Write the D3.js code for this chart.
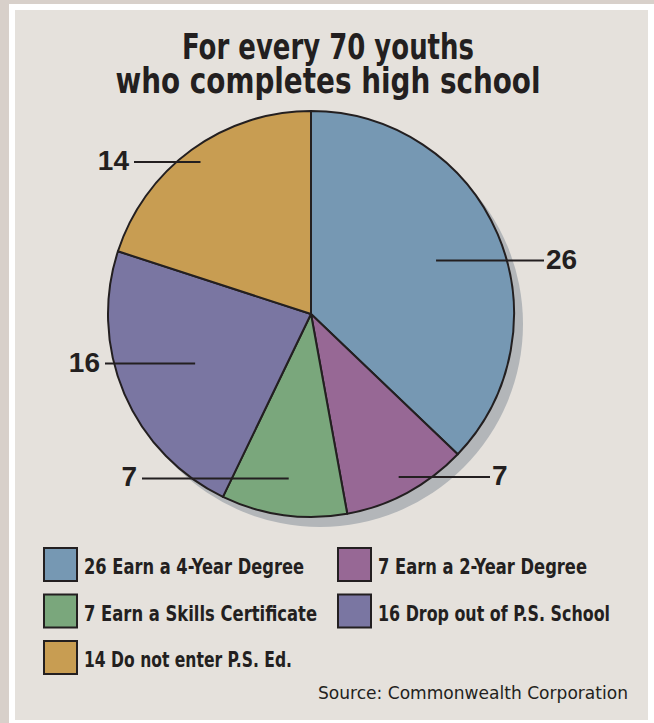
<!DOCTYPE html>
<html>
<head>
<meta charset="utf-8">
<script src="https://cdn.jsdelivr.net/npm/d3@7"></script>
<style>
  body { margin: 0; background: #d8d0ca; }
  svg { display: block; }
</style>
</head>
<body>
<div id="chart"></div>
<script>
// data
const categories = ["Earn a 4-Year Degree", "Earn a 2-Year Degree", "Earn a Skills Certificate", "Drop out of P.S. School", "Do not enter P.S. Ed."];
const values = [26, 7, 7, 16, 14];
const colors = ["#7698b3", "#976895", "#7aa77c", "#7a76a2", "#c89d52"];
const titleLines = ["For every 70 youths", "who completes high school"];
const sourceText = "Source: Commonwealth Corporation";

// layout: leader lines and squeezed text widths (no narrow font installed)
const leaderRadius = [136, 185, 166, 126, 188];
const leaderSide = ["right", "right", "left", "left", "left"];
const leaderEndX = [544, 490, 142, 105, 134];
const titleWidths = [292, 425];
const legendWidths = [220, 209, 233, 232, 208];

const width = 654;
const height = 723;
const cx = 311, cy = 314, radius = 203;
const condensed = "'Liberation Sans Narrow', 'Arial Narrow', 'DejaVu Sans Condensed', sans-serif";
const ink = "#231f20";

const svg = d3.select("#chart")
    .append("svg")
    .attr("width", width)
    .attr("height", height);

// frame
svg.append("rect").attr("width", width).attr("height", height).attr("fill", "#d8d0ca");
svg.append("rect").attr("x", 9).attr("y", 4).attr("width", width - 9).attr("height", height - 4).attr("fill", "#ffffff");
svg.append("rect").attr("x", 15).attr("y", 10).attr("width", 633).attr("height", 710).attr("fill", "#e5e1dc");

// title
svg.append("g")
    .selectAll("text")
    .data(titleLines)
    .enter()
    .append("text")
    .attr("x", 328)
    .attr("y", (d, i) => 59 + i * 34)
    .attr("text-anchor", "middle")
    .attr("font-family", condensed)
    .attr("font-weight", "bold")
    .attr("font-size", "35px")
    .attr("textLength", (d, i) => titleWidths[i])
    .attr("lengthAdjust", "spacingAndGlyphs")
    .attr("fill", ink)
    .text(d => d);

// pie
const pie = d3.pie().sort(null).value(d => d);
const arcs = pie(values);
const arc = d3.arc().innerRadius(0).outerRadius(radius);

const g = svg.append("g").attr("transform", `translate(${cx},${cy})`);

g.append("circle")
    .attr("cx", 9)
    .attr("cy", 10)
    .attr("r", radius)
    .attr("fill", "#b3b6b9");

g.selectAll("path.slice")
    .data(arcs)
    .enter()
    .append("path")
    .attr("class", "slice")
    .attr("d", arc)
    .attr("fill", (d, i) => colors[i])
    .attr("stroke", ink)
    .attr("stroke-width", 2)
    .attr("stroke-linejoin", "round");

// leader lines + value labels
const leaders = arcs.map((d, i) => {
    const a = (d.startAngle + d.endAngle) / 2;
    return {
        value: d.data,
        side: leaderSide[i],
        x1: cx + leaderRadius[i] * Math.sin(a),
        y: cy - leaderRadius[i] * Math.cos(a),
        x2: leaderEndX[i]
    };
});

svg.selectAll("line.leader")
    .data(leaders)
    .enter()
    .append("line")
    .attr("class", "leader")
    .attr("x1", d => d.x1)
    .attr("x2", d => d.x2)
    .attr("y1", d => d.y)
    .attr("y2", d => d.y)
    .attr("stroke", ink)
    .attr("stroke-width", 2);

svg.selectAll("text.value")
    .data(leaders)
    .enter()
    .append("text")
    .attr("class", "value")
    .attr("x", d => d.side === "right" ? d.x2 + 2 : d.x2 - 5)
    .attr("y", d => d.y + 8)
    .attr("text-anchor", d => d.side === "right" ? "start" : "end")
    .attr("font-family", "'Liberation Sans', Arial, sans-serif")
    .attr("font-weight", "bold")
    .attr("font-size", "28px")
    .attr("fill", ink)
    .text(d => d.value);

// legend
const legend = svg.selectAll(".legend")
    .data(categories)
    .enter()
    .append("g")
    .attr("class", "legend")
    .attr("transform", (d, i) => `translate(${44 + (i % 2) * 294},${548 + Math.floor(i / 2) * 46.5})`);

legend.append("rect")
    .attr("width", 33)
    .attr("height", 33)
    .attr("fill", (d, i) => colors[i])
    .attr("stroke", ink)
    .attr("stroke-width", 2);

legend.append("text")
    .attr("x", 40)
    .attr("y", 26)
    .attr("font-family", condensed)
    .attr("font-weight", "bold")
    .attr("font-size", "21px")
    .attr("textLength", (d, i) => legendWidths[i])
    .attr("lengthAdjust", "spacingAndGlyphs")
    .attr("fill", ink)
    .text((d, i) => `${values[i]} ${d}`);

// source
svg.append("text")
    .attr("x", 628)
    .attr("y", 699)
    .attr("text-anchor", "end")
    .attr("font-family", condensed)
    .attr("font-size", "18px")
    .attr("textLength", 310)
    .attr("lengthAdjust", "spacingAndGlyphs")
    .attr("fill", ink)
    .text(sourceText);
</script>
</body>
</html>
